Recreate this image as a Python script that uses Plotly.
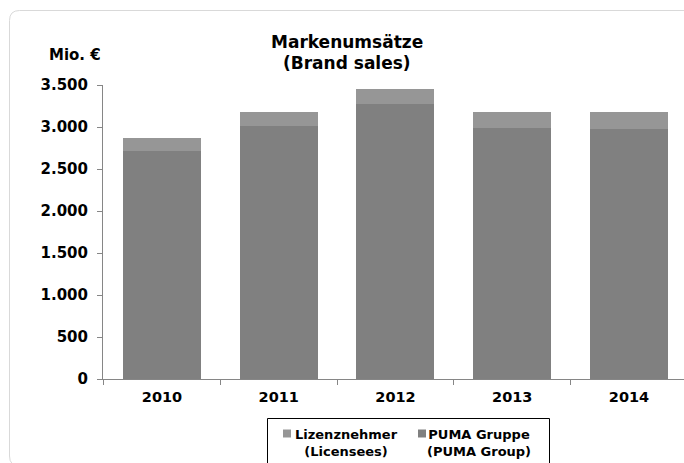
import plotly.graph_objects as go

# Brand sales in million euros, split into PUMA's own sales and licensee sales
years = ["2010", "2011", "2012", "2013", "2014"]
puma_group = [2714, 3012, 3274, 2993, 2976]
licensees = [150, 172, 184, 191, 199]

y_ticks = [0, 500, 1000, 1500, 2000, 2500, 3000, 3500]
y_tick_labels = ["0", "500", "1.000", "1.500", "2.000", "2.500", "3.000", "3.500"]

series_names = ["Lizenznehmer<br>(Licensees)", "PUMA Gruppe<br>(PUMA Group)"]
series_colors = ["#969696", "#808080"]

W, H = 684, 463
M_L, M_R, M_T, M_B = 103, 0, 85, 84
PLOT_W = W - M_L - M_R
PLOT_H = H - M_T - M_B

FONT = "DejaVu Sans"


def px(xp):
    return (xp - M_L) / PLOT_W


def py(yp):
    return (H - M_B - yp) / PLOT_H


def rounded_rect(x0, y0, x1, y1, r):
    """Rounded rectangle path in paper coordinates from pixel corners."""
    pts = [
        f"M {px(x0 + r)},{py(y0)}",
        f"L {px(x1 - r)},{py(y0)}",
        f"Q {px(x1)},{py(y0)} {px(x1)},{py(y0 + r)}",
        f"L {px(x1)},{py(y1 - r)}",
        f"Q {px(x1)},{py(y1)} {px(x1 - r)},{py(y1)}",
        f"L {px(x0 + r)},{py(y1)}",
        f"Q {px(x0)},{py(y1)} {px(x0)},{py(y1 - r)}",
        f"L {px(x0)},{py(y0 + r)}",
        f"Q {px(x0)},{py(y0)} {px(x0 + r)},{py(y0)}",
        "Z",
    ]
    return " ".join(pts)


fig = go.Figure()
fig.add_trace(go.Bar(
    x=years, y=puma_group, name=series_names[1],
    marker=dict(color=series_colors[1], line=dict(width=0)),
    showlegend=False,
))
fig.add_trace(go.Bar(
    x=years, y=licensees, name=series_names[0],
    marker=dict(color=series_colors[0], line=dict(width=0)),
    showlegend=False,
))

# Legend key: framed box below the axis with small square swatches
legend_shapes = [
    dict(
        type="rect", xref="paper", yref="paper",
        x0=px(267.5), x1=px(549.5), y0=py(418.5), y1=py(470),
        line=dict(color="#000000", width=1), fillcolor="rgba(0,0,0,0)",
    ),
]
legend_annotations = []
swatch_left = [283, 418]
text_center = [346.5, 479]
for i in range(2):
    legend_shapes.append(dict(
        type="rect", xref="paper", yref="paper",
        x0=px(swatch_left[i]), x1=px(swatch_left[i] + 8),
        y0=py(437.5), y1=py(429.5),
        line=dict(width=0), fillcolor=series_colors[i],
    ))
    legend_annotations.append(dict(
        text=f"<b>{series_names[i]}</b>", xref="paper", yref="paper",
        x=px(text_center[i]), y=py(442.5), xanchor="center", yanchor="middle",
        align="center", showarrow=False,
        font=dict(family=FONT, size=13, color="black"),
    ))

fig.update_layout(
    width=W, height=H,
    margin=dict(l=M_L, r=M_R, t=M_T, b=M_B, pad=0),
    paper_bgcolor="white", plot_bgcolor="white",
    barmode="stack", bargap=0.332,
    font=dict(family=FONT, color="black"),
    showlegend=False,
    xaxis=dict(
        type="category", range=[-0.505, 4.471],
        showline=True, linecolor="#868686", linewidth=1,
        ticks="outside", tickson="boundaries", ticklen=5, tickcolor="#868686",
        ticklabelstandoff=5,
        tickfont=dict(family=FONT, size=14.5, weight="bold"),
        showgrid=False, zeroline=False,
    ),
    yaxis=dict(
        range=[0, 3500], tickvals=y_ticks, ticktext=y_tick_labels,
        showline=True, linecolor="#868686", linewidth=1,
        ticks="outside", ticklen=5, tickcolor="#868686",
        ticklabelstandoff=6,
        tickfont=dict(family=FONT, size=15, weight="bold"),
        showgrid=False, zeroline=False,
    ),
    shapes=[
        # rounded chart frame
        dict(
            type="path", xref="paper", yref="paper",
            path=rounded_rect(9.5, 10.5, 694, 466, 10),
            line=dict(color="#d9d9d9", width=1), fillcolor="rgba(0,0,0,0)",
            layer="below",
        ),
    ] + legend_shapes,
    annotations=[
        dict(text="<b>Markenumsätze</b>", xref="paper", yref="paper",
             x=px(347), y=py(42), xanchor="center", yanchor="middle",
             showarrow=False, font=dict(family=FONT, size=17)),
        dict(text="<b>(Brand sales)</b>", xref="paper", yref="paper",
             x=px(347), y=py(63.5), xanchor="center", yanchor="middle",
             showarrow=False, font=dict(family=FONT, size=17)),
        dict(text="<b>Mio. €</b>", xref="paper", yref="paper",
             x=px(103), y=py(55), xanchor="right", yanchor="middle",
             showarrow=False, font=dict(family=FONT, size=15)),
    ] + legend_annotations,
)

fig.write_html("out.html")
